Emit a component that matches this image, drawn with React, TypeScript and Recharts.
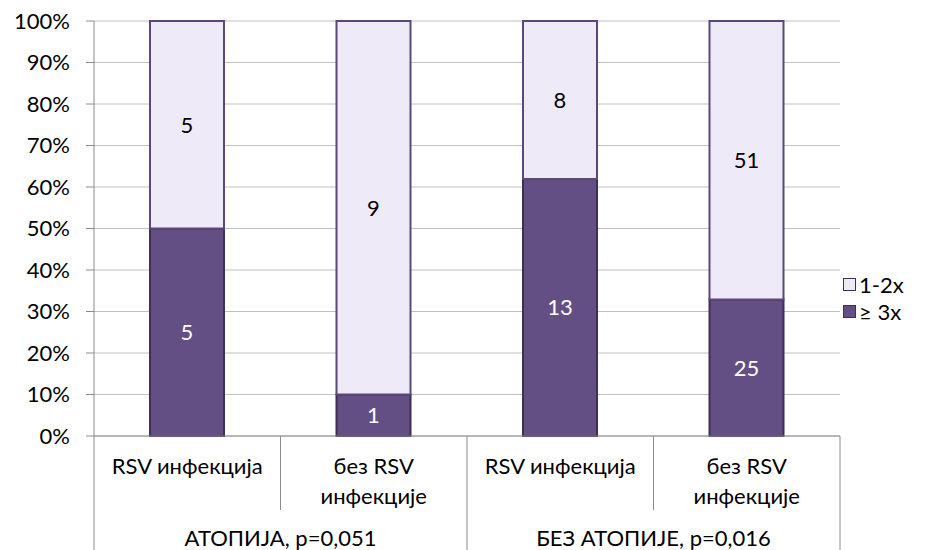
import React from 'react';
import { BarChart, Bar, XAxis, YAxis, CartesianGrid, LabelList } from 'recharts';

const categories = ['RSV инфекција', 'без RSV\nинфекције', 'RSV инфекција', 'без RSV\nинфекције'];
const groups = ['АТОПИЈА, p=0,051', 'БЕЗ АТОПИЈЕ, p=0,016'];
const threePlus = [5, 1, 13, 25];
const oneTwo = [5, 9, 8, 51];
const seriesNames = ['≥ 3x', '1-2x'];
const yTicks = [0, 0.1, 0.2, 0.3, 0.4, 0.5, 0.6, 0.7, 0.8, 0.9, 1];

const data = categories.map((c, i) => ({ key: i, high: threePlus[i], low: oneTwo[i] }));

const FONT = "Lato, 'Noto Sans', sans-serif";
const FS = 22;
const AXIS = '#8c8c8c';
const DARK = '#644f85';
const LIGHT = '#efeaf7';

const CategoryTick = (props: any) => {
  const { x, y, index, width } = props;
  const band = (width || 746) / categories.length;
  const lines = categories[index].split('\n');
  const left = x - band / 2;
  const groupStart = index % 2 === 0;
  return (
    <g>
      <line x1={left} y1={y} x2={left} y2={groupStart ? y + 114 : y + 74} stroke={AXIS} />
      {index === categories.length - 1 && (
        <line x1={x + band / 2} y1={y} x2={x + band / 2} y2={y + 114} stroke={AXIS} />
      )}
      {lines.map((l, k) => (
        <text key={k} x={x} y={y + 38 + k * 30} textAnchor="middle" fontSize={FS} fontFamily={FONT} fill="#000">
          {l}
        </text>
      ))}
      {groupStart && (
        <text x={x + band / 2} y={y + 110} textAnchor="middle" fontSize={FS} fontFamily={FONT} fill="#000">
          {groups[index / 2]}
        </text>
      )}
    </g>
  );
};

const LegendBox = () => {
  const items = [
    { name: seriesNames[1], fill: LIGHT },
    { name: seriesNames[0], fill: DARK },
  ];
  return (
    <div style={{ position: 'absolute', left: 843, top: 271, fontFamily: FONT, fontSize: FS, lineHeight: '27px' }}>
      {items.map((it) => (
        <div key={it.name} style={{ display: 'flex', alignItems: 'center', height: 27 }}>
          <span style={{ display: 'inline-block', width: 11, height: 11, background: it.fill, border: '1px solid #3d3054', marginRight: 3 }} />
          <span>{it.name}</span>
        </div>
      ))}
    </div>
  );
};

export default function App() {
  return (
    <div style={{ position: 'absolute', left: 0, top: 0, width: 952, height: 550, background: '#fff' }}>
      <BarChart
        width={952}
        height={550}
        data={data}
        stackOffset="expand"
        margin={{ top: 21, right: 112, bottom: 0, left: 0 }}
      >
        <CartesianGrid vertical={false} stroke="#c0c0c0" />
        <XAxis
          dataKey="key"
          height={114}
          tickLine={false}
          tickSize={0}
          tickMargin={0}
          stroke={AXIS}
          interval={0}
          tick={<CategoryTick />}
        />
        <YAxis
          width={94}
          domain={[0, 1]}
          ticks={yTicks}
          tickFormatter={(v: number) => `${Math.round(v * 100)}%`}
          stroke={AXIS}
          tickSize={8}
          tickMargin={16}
          tick={{ fill: '#000', fontSize: FS, fontFamily: FONT }}
        />
        <Bar dataKey="high" name={seriesNames[0]} stackId="a" fill={DARK} stroke="#3d3054" strokeWidth={2} barSize={74} isAnimationActive={false}>
          <LabelList dataKey="high" position="center" fill="#fff" fontSize={FS} fontFamily={FONT} />
        </Bar>
        <Bar dataKey="low" name={seriesNames[1]} stackId="a" fill={LIGHT} stroke="#5b4878" strokeWidth={2} barSize={74} isAnimationActive={false}>
          <LabelList dataKey="low" position="center" fill="#000" fontSize={FS} fontFamily={FONT} />
        </Bar>
      </BarChart>
      <LegendBox />
    </div>
  );
}
